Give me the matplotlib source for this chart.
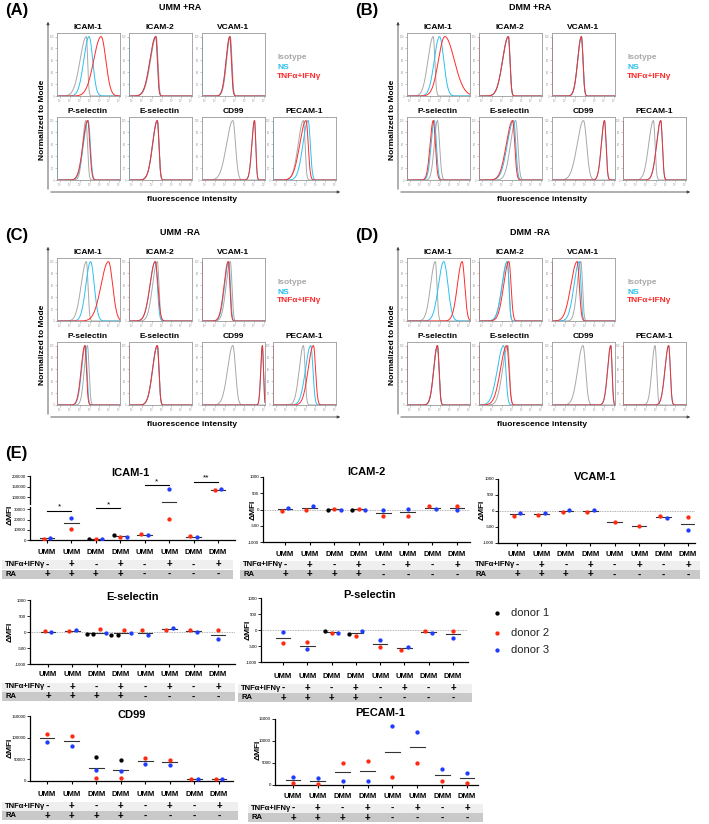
import numpy as np
import matplotlib.pyplot as plt
from matplotlib.patches import Rectangle
from matplotlib.transforms import blended_transform_factory

plt.rcParams['font.family'] = ['Liberation Sans', 'DejaVu Sans']

W, H = 709, 824

# ---------------- flow histograms (A-D) ----------------
# each curve: (peak, left width, right width) in log decades
markers = ['ICAM-1', 'ICAM-2', 'VCAM-1', 'P-selectin', 'E-selectin', 'CD99', 'PECAM-1']
panel_titles = ['UMM +RA', 'DMM +RA', 'UMM -RA', 'DMM -RA']
panel_tags = ['(A)', '(B)', '(C)', '(D)']

A_iso = [(2.8, .6, .12), (2.6, .55, .15), (2.7, .35, .15), (2.75, .3, .15), (2.7, .45, .15), (2.94, .6, .25), (2.9, .5, .15)]
A_ns = [(3.05, .5, .35), (2.55, .55, .15), (2.65, .35, .15), (2.97, .45, .2), (2.7, .45, .15), (5.0, .25, .12), (3.35, .5, .2)]
A_tnf = [(4.2, .7, .45), (2.55, .55, .15), (2.65, .35, .15), (2.92, .45, .2), (2.7, .45, .15), (5.0, .25, .12), (3.15, .6, .2)]

B_iso = [(2.5, .5, .15), (2.8, .55, .15), (2.8, .35, .15), (2.9, .3, .2), (3.5, .5, .2), (3.0, .6, .3), (2.9, .45, .15)]
B_ns = [(3.1, .5, .4), (2.8, .55, .15), (2.8, .35, .15), (2.6, .3, .2), (3.3, .6, .2), (5.0, .3, .15), (3.6, .4, .15)]
B_tnf = [(3.6, .6, .9), (2.8, .55, .15), (2.8, .35, .15), (2.5, .3, .2), (3.2, .6, .2), (5.0, .3, .15), (3.6, .4, .15)]

C_iso = [(2.8, .5, .15), (2.7, .45, .15), (2.7, .4, .15), (2.9, .3, .15), (2.7, .45, .15), (2.94, .5, .25), (2.9, .4, .15)]
C_ns = [(3.2, .45, .35), (2.5, .5, .2), (2.55, .4, .15), (2.7, .35, .15), (2.7, .45, .15), (5.75, .15, .1), (3.6, .5, .2)]
C_tnf = [(4.9, .7, .4), (2.5, .5, .25), (2.5, .4, .15), (2.65, .35, .15), (2.7, .45, .15), (5.75, .15, .1), (3.85, .5, .2)]

D_iso = [(2.7, .45, .15), (2.7, .5, .15), (2.75, .35, .15), (2.9, .35, .15), (2.75, .5, .15), (2.95, .5, .25), (3.05, .3, .15)]
D_ns = [(3.5, .5, .4), (2.7, .5, .15), (2.6, .5, .15), (2.9, .35, .15), (2.35, .6, .2), (5.6, .3, .12), (4.35, .35, .15)]
D_tnf = [(5.25, .45, .25), (2.85, .5, .2), (2.4, .6, .2), (2.9, .35, .15), (2.65, .6, .2), (5.6, .3, .12), (4.35, .35, .15)]

hist_iso = [A_iso, B_iso, C_iso, D_iso]
hist_ns = [A_ns, B_ns, C_ns, D_ns]
hist_tnf = [A_tnf, B_tnf, C_tnf, D_tnf]

# ---------------- dMFI scatter (E) ----------------
cat_labels = ['UMM', 'UMM', 'DMM', 'DMM', 'UMM', 'UMM', 'DMM', 'DMM']
tnf_signs = ['-', '+', '-', '+', '-', '+', '-', '+']
ra_signs = ['+', '+', '+', '+', '-', '-', '-', '-']

icam1_d1 = [None, None, 1300, 5200, None, None, None, None]
icam1_d2 = [1000, 11000, 650, 3200, 5500, 20500, 3900, 134000]
icam1_d3 = [2000, 22000, 650, 3000, 4900, 137500, 2600, 139000]

icam2_d1 = [None, None, 0, 0, None, None, None, None]
icam2_d2 = [-40, 0, 20, 30, -200, -190, 100, 120]
icam2_d3 = [60, 120, 0, 0, 0, 30, 20, -20]

vcam1_d1 = [None] * 8
vcam1_d2 = [-160, -135, -40, -20, -340, -480, -170, -200]
vcam1_d3 = [-50, -50, 30, 40, None, None, -210, -600]

esel_d1 = [None, None, (-75, -75), (-85, -85), None, None, None, None]
esel_d2 = [30, 30, 85, 75, 50, 50, 70, 70]
esel_d3 = [0, 50, -20, -30, -85, 125, 0, -230]

psel_d1 = [None, None, -20, -115, None, None, None, None]
psel_d2 = [-400, -370, -105, -190, -535, -630, -40, -30]
psel_d3 = [-75, -600, -95, -20, -315, -525, -85, -240]

cd99_d1 = [None, None, 56000, 48000, None, None, None, None]
cd99_d2 = [108500, 104000, 7700, 6000, 53500, 49500, 5000, 4500]
cd99_d3 = [91000, 81000, 26000, 22500, 40000, 36500, 5000, 4500]

pecam1_d1 = [None] * 8
pecam1_d2 = [450, 300, 5000, 5400, 1840, 4900, 920, 460]
pecam1_d3 = [1850, 1600, 1000, 850, 13300, 12150, 3750, 2830]

icam1_sig = [(1, 2, '*', 28500), (3, 4, '*', 31000), (5, 6, '*', 158000), (7, 8, '**', 173000)]

donor_names = ['donor 1', 'donor 2', 'donor 3']
donor_colors = ['#000000', '#ff2a12', '#1f3cff']

GRAY, CYAN, RED = '#a8a8a8', '#2cc0f0', '#ff2a2a'

fig = plt.figure(figsize=(W / 100, H / 100), dpi=100)
bg = fig.add_axes([0, 0, 1, 1])
bg.set_xlim(0, W)
bg.set_ylim(H, 0)
bg.axis('off')


def box(l, t, r, b):
    return fig.add_axes([l / W, 1 - b / H, (r - l) / W, (b - t) / H])


def curve(x, p, sl, sr):
    s = np.where(x < p, sl, sr)
    return 100 * np.exp(-0.5 * ((x - p) / s) ** 2)


# ---- histogram panels
origins = [(0, 0), (350, 0), (0, 225), (350, 225)]
col_left = [57, 129, 202, 273]
row_top = [33, 117]
slots = [(0, 0), (0, 1), (0, 2), (1, 0), (1, 1), (1, 2), (1, 3)]
edge_col = [CYAN, RED, RED, RED]
xs = np.linspace(0, 6, 400)

for k in range(4):
    ox, oy = origins[k]
    bg.text(ox + 5, oy + 10, panel_tags[k], fontsize=12, fontweight='bold', va='center')
    bg.text(ox + 180, oy + 7, panel_titles[k], fontsize=6.5, fontweight='bold', ha='center', va='center')
    bg.annotate('', xy=(ox + 48, oy + 19), xytext=(ox + 48, oy + 192),
                arrowprops=dict(arrowstyle='-|>', lw=0.6, color='#444', mutation_scale=4))
    bg.annotate('', xy=(ox + 343, oy + 192), xytext=(ox + 48, oy + 192),
                arrowprops=dict(arrowstyle='-|>', lw=0.6, color='#444', mutation_scale=4))
    bg.text(ox + 42, oy + 120, 'Normalized to Mode', rotation=90, fontsize=6, fontweight='bold',
            ha='center', va='center')
    bg.text(ox + 192, oy + 199, 'fluorescence intensity', fontsize=6, fontweight='bold',
            ha='center', va='center')
    bg.text(ox + 277, oy + 57, 'Isotype', color=GRAY, fontsize=6, fontweight='bold', va='center')
    bg.text(ox + 277, oy + 67, 'NS', color=CYAN, fontsize=6, fontweight='bold', va='center')
    bg.text(ox + 277, oy + 76, 'TNFα+IFNγ', color=RED, fontsize=6, fontweight='bold', va='center')

    for m, (r, c) in enumerate(slots):
        l = ox + col_left[c]
        t = oy + row_top[r]
        ax = box(l, t, l + 63, t + 63)
        ax.plot(xs, curve(xs, *hist_iso[k][m]), color=GRAY, lw=0.7)
        ax.plot(xs, curve(xs, *hist_ns[k][m]), color=CYAN, lw=0.7)
        ax.plot(xs, curve(xs, *hist_tnf[k][m]), color=RED, lw=0.7)
        if m not in (0, 5):
            ax.plot([0.03, 0.03], [0, 100], color=edge_col[k], lw=0.7)
        ax.set_xlim(0, 6)
        ax.set_ylim(0, 106)
        ax.set_xticks(np.linspace(0.3, 5.9, 7))
        ax.set_xticklabels(['10⁰', '10¹', '10²', '10³', '10⁴', '10⁵', '10⁶'], fontsize=1.8, color='#777')
        ax.set_yticks([0, 20, 40, 60, 80, 100])
        ax.set_yticklabels(['0', '20', '40', '60', '80', '100'], fontsize=1.8, color='#777')
        ax.tick_params(length=1.2, width=0.4, pad=0.8, colors='#999')
        for s in ax.spines.values():
            s.set_color('#999')
            s.set_linewidth(0.6)
        bg.text(l + 31, t - 6, markers[m], fontsize=6, fontweight='bold', ha='center', va='center')

# ---- panel E
bg.text(5, 453, '(E)', fontsize=12, fontweight='bold', va='center')


def spread_points(vals_by_donor, ylims, heights):
    """collect (x_offset, value, color) for one group, GraphPad-like spreading of overlapping dots"""
    pts = []
    for d, v in enumerate(vals_by_donor):
        if v is None:
            continue
        for vv in (v if isinstance(v, tuple) else (v,)):
            pts.append((vv, d))
    out = []
    # clusters of nearby points (in pixels)
    def px(v):
        for (lo, hi), h in zip(ylims, heights):
            if lo <= v <= hi:
                return (v - lo) / (hi - lo) * h + 1000 * ylims.index((lo, hi))
        return v
    order = sorted(range(len(pts)), key=lambda i: px(pts[i][0]))
    clusters = []
    for i in order:
        if clusters and px(pts[i][0]) - px(pts[clusters[-1][-1]][0]) < 4.5:
            clusters[-1].append(i)
        else:
            clusters.append([i])
    for cl in clusters:
        cl = sorted(cl, key=lambda i: pts[i][1])
        n = len(cl)
        for j, i in enumerate(cl):
            out.append(((j - (n - 1) / 2) * 0.27, pts[i][0], donor_colors[pts[i][1]]))
    return out, [p[0] for p in pts]


def dot_panel(title, d1, d2, d3, spec):
    l, r, c1, c8 = spec['x']
    s = (c8 - c1) / 7
    xlim = (1 - (l - 0) * 0 - (c1 - l) / s, 8 + (r - c8) / s)
    axes = []
    for (t, b, lo, hi) in spec['y']:
        ax = box(l, t, r, b)
        ax.set_xlim(*xlim)
        ax.set_ylim(lo, hi)
        ax.patch.set_alpha(0)
        for side in ('top', 'right'):
            ax.spines[side].set_visible(False)
        ax.spines['left'].set_linewidth(0.9)
        ax.spines['bottom'].set_linewidth(0.9)
        ax.tick_params(axis='y', labelsize=3.2, length=2, width=0.6, pad=0.8)
        axes.append(ax)
    base = axes[0]
    base.set_xticks(range(1, 9))
    base.set_xticklabels([])
    base.tick_params(axis='x', length=2.5, width=0.8)
    for ax in axes[1:]:
        ax.spines['bottom'].set_visible(False)
        ax.set_xticks([])
    for ax, ticks in zip(axes, spec['ticks']):
        ax.set_yticks(ticks)
        ax.set_yticklabels([str(v) for v in ticks])
    if spec.get('zero'):
        base.axhline(0, color='#999', lw=0.6, ls=(0, (1, 1)))
    ylims = [(lo, hi) for (t, b, lo, hi) in spec['y']]
    heights = [b - t for (t, b, lo, hi) in spec['y']]
    for g in range(8):
        pts, vals = spread_points([d1[g], d2[g], d3[g]], ylims, heights)
        mean = np.mean(vals)
        for ax in axes:
            ax.plot([g + 1 - 0.3, g + 1 + 0.3], [mean, mean], color='#333', lw=0.8, zorder=2)
            for dx, v, col in pts:
                ax.plot(g + 1 + dx, v, 'o', color=col, ms=3.1, mec='none', zorder=3)
    # labels
    cx = np.linspace(c1, c8, 8)
    bg.text(spec['title'][0], spec['title'][1], title, fontsize=8, fontweight='bold', ha='center', va='center')
    bg.text(spec['ylab'][0], spec['ylab'][1], 'ΔMFI', rotation=90, fontsize=6, fontweight='bold',
            ha='center', va='center')
    cy, ty = spec['rows']
    bx0, bx1 = spec['band']
    bg.add_patch(Rectangle((bx0, ty - 4.5), bx1 - bx0, 9, color='#efefef', lw=0, zorder=0))
    bg.add_patch(Rectangle((bx0, ty + 5), bx1 - bx0, 9, color='#c9c9c9', lw=0, zorder=0))
    bg.text(bx0 + 3, ty, 'TNFα+IFNγ', fontsize=5.5, fontweight='bold', va='center')
    bg.text(bx0 + 3, ty + 9.5, 'RA', fontsize=5.5, fontweight='bold', va='center')
    for g in range(8):
        bg.text(cx[g], cy, cat_labels[g], fontsize=5.5, fontweight='bold', ha='center', va='center')
        bg.text(cx[g], ty, tnf_signs[g], fontsize=7, fontweight='bold', ha='center', va='center')
        bg.text(cx[g], ty + 9.5, ra_signs[g], fontsize=7, fontweight='bold', ha='center', va='center')
    return axes


small = [1000, 500, 0, -500, -1000]

ic1 = dot_panel('ICAM-1', icam1_d1, icam1_d2, icam1_d3, dict(
    x=(30, 235, 47, 218), y=[(507.3, 540, 0, 32000), (476, 503.5, 71000, 200000)],
    ticks=[[0, 10000, 20000, 30000], [100000, 150000, 200000]],
    title=(130, 473), ylab=(10, 515), rows=(553, 564.5), band=(2, 233)))
for a, b, star, yv in icam1_sig:
    ax = ic1[0] if yv < 32000 else ic1[1]
    ax.plot([a, b], [yv, yv], color='black', lw=0.8, clip_on=False)
    ax.text((a + b) / 2, yv, star, fontsize=6, ha='center', va='bottom')

dot_panel('ICAM-2', icam2_d1, icam2_d2, icam2_d3, dict(
    x=(263, 470, 285, 457), y=[(477, 542, -1000, 1000)], ticks=[small], zero=True,
    title=(366, 472), ylab=(253, 510), rows=(554, 565), band=(240, 472)))
dot_panel('VCAM-1', vcam1_d1, vcam1_d2, vcam1_d3, dict(
    x=(498, 695, 517, 688), y=[(479, 543, -1000, 1000)], ticks=[small], zero=True,
    title=(595, 477), ylab=(482, 510), rows=(554, 565), band=(472, 700)))
dot_panel('E-selectin', esel_d1, esel_d2, esel_d3, dict(
    x=(30, 235, 48, 218), y=[(600, 664, -1000, 1000)], ticks=[small], zero=True,
    title=(133, 597), ylab=(10, 632), rows=(675, 687), band=(2, 235)))
dot_panel('P-selectin', psel_d1, psel_d2, psel_d3, dict(
    x=(261, 468, 283, 453), y=[(598, 662, -1000, 1000)], ticks=[small], zero=True,
    title=(370, 595), ylab=(248, 630), rows=(676, 688), band=(238, 472)))
dot_panel('CD99', cd99_d1, cd99_d2, cd99_d3, dict(
    x=(30, 233, 47, 219), y=[(716, 781, 0, 150000)], ticks=[[0, 50000, 100000, 150000]],
    title=(132, 715), ylab=(10, 748), rows=(794, 806), band=(2, 238)))
dot_panel('PECAM-1', pecam1_d1, pecam1_d2, pecam1_d3, dict(
    x=(275, 478, 293, 467), y=[(719, 785, 0, 15000)], ticks=[[0, 5000, 10000, 15000]],
    title=(380, 713), ylab=(258, 750), rows=(796, 808), band=(248, 483)))

# donor legend
for i, (name, col) in enumerate(zip(donor_names, donor_colors)):
    yy = [613, 633, 650][i]
    bg.plot(497, yy, 'o', color=col, ms=3.1, mec='none')
    bg.text(511, yy, name, fontsize=8, va='center', color='#222')

fig.savefig('out.png', dpi=100)
